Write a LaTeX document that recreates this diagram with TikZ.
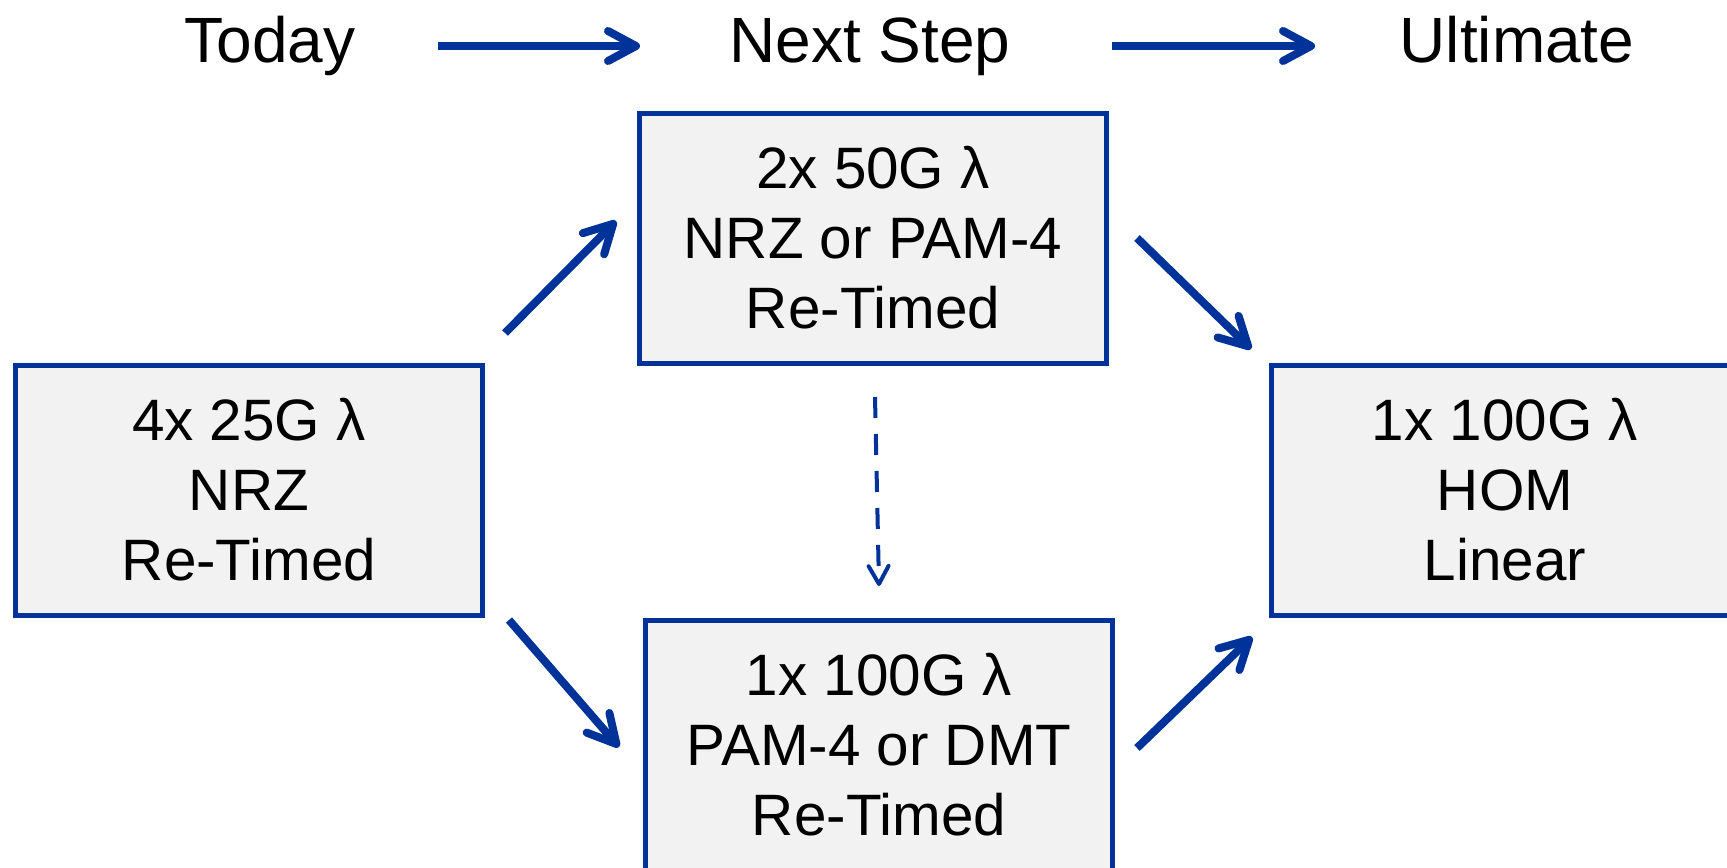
\documentclass[tikz,border=0pt]{standalone}
\usepackage{fontspec}
\setmainfont{Liberation Sans}
\usetikzlibrary{arrows.meta}
\definecolor{myblue}{RGB}{0,51,153}
\definecolor{boxfill}{RGB}{242,242,242}
\begin{document}
\begin{tikzpicture}[x=0.5pt,y=-0.5pt,
  box/.style={draw=myblue, fill=boxfill, line width=2.5pt, minimum width=233.5pt, minimum height=125pt, align=center, font=\fontsize{29.2}{35}\selectfont, inner sep=0pt},
  title/.style={font=\fontsize{32}{38}\selectfont, inner sep=0pt, anchor=base},
  arr/.style={draw=myblue, line width=4pt, -{Straight Barb[round,length=14pt,width=15pt]}},
  darr/.style={draw=myblue, line width=2pt, dash pattern=on 10.5pt off 8pt, -{Straight Barb[round,length=9pt,width=10pt]}}
]
\useasboundingbox (0,0) rectangle (1727,867);
\fill[white] (0,0) rectangle (1727,867);

% titles
\node[title] (today) at (270,62) {Today};
\node[title] (next) at (870,62) {Next Step};
\node[title] (ult) at (1517,62) {Ultimate};

\coordinate (t1s) at (438,46);
\coordinate (t1e) at (640,46);
\coordinate (t2s) at (1112,46);
\coordinate (t2e) at (1315,46);
\draw[arr] (t1s) -- (t1e);
\draw[arr] (t2s) -- (t2e);

% boxes
\node[box] (left) at (249,490) {4x 25G λ\\NRZ\\Re-Timed};
\node[box] (top) at (873,238) {2x 50G λ\\NRZ or PAM-4\\Re-Timed};
\node[box] (bot) at (879,745) {1x 100G λ\\PAM-4 or DMT\\Re-Timed};
\node[box] (right) at (1505,490) {1x 100G λ\\HOM\\Linear};

% diagonal arrows
\coordinate (a1s) at (505,333);
\coordinate (a1e) at (616,221);
\coordinate (a2s) at (509,620);
\coordinate (a2e) at (619,747);
\coordinate (a3s) at (1137,238);
\coordinate (a3e) at (1251,349);
\coordinate (a4s) at (1137,748);
\coordinate (a4e) at (1252,637);
\draw[arr] (a1s) -- (a1e);
\draw[arr] (a2s) -- (a2e);
\draw[arr] (a3s) -- (a3e);
\draw[arr] (a4s) -- (a4e);

% dashed arrow
\coordinate (ds) at (875,397);
\coordinate (de) at (879,586);
\draw[darr] (ds) -- (de);
\end{tikzpicture}
\end{document}
